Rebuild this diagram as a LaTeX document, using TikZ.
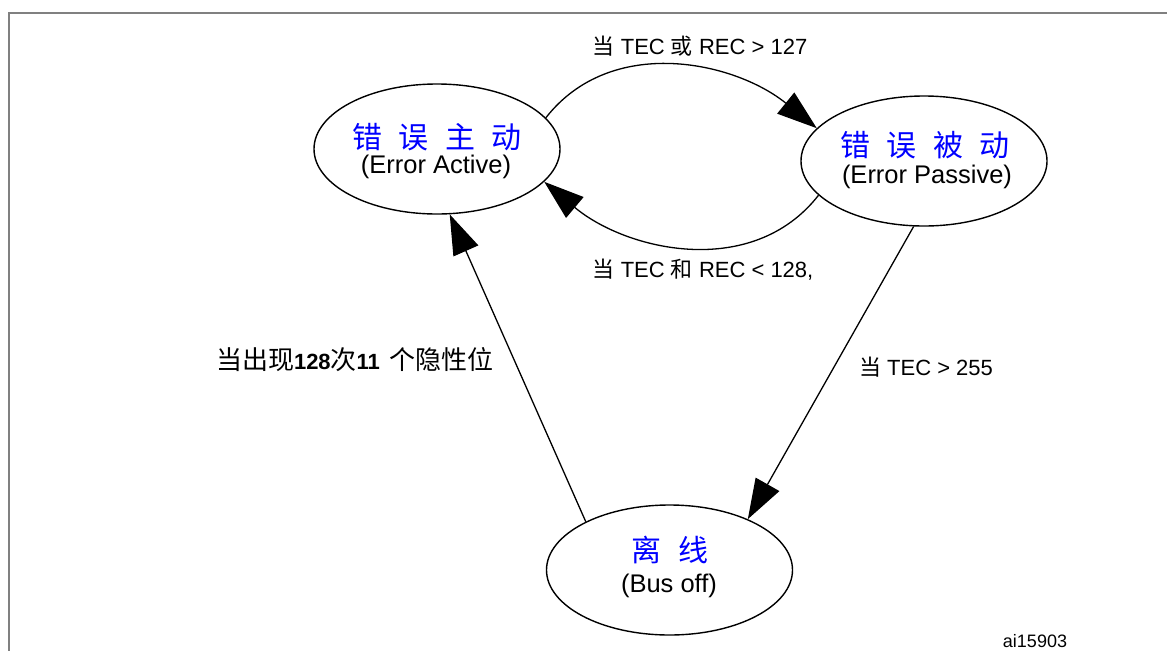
\documentclass[tikz,border=0pt]{standalone}
\usepackage{fontspec}
\setmainfont{Liberation Sans}
\newfontfamily\cjk{Noto Sans CJK SC}
\newfontfamily\cjkwide{Noto Sans CJK SC}[WordSpace=2.4]
\usetikzlibrary{arrows.meta,shapes.geometric}
\tikzset{
  state/.style={ellipse, draw, line width=1.4pt, minimum width=246pt, minimum height=130pt, inner sep=0pt},
  title/.style={font=\fontsize{30}{30}\selectfont\cjkwide, text=blue, inner sep=0pt},
  sub/.style={font=\fontsize{25.5}{25.5}\selectfont, inner sep=0pt},
  lab/.style={font=\fontsize{22}{22}\selectfont, inner sep=0pt},
  arr/.style={line width=1.3pt, -{Triangle[length=40pt,width=27pt]}},
  frame/.style={draw=gray, line width=2pt}
}
\begin{document}
\begin{tikzpicture}[x=1pt,y=1pt]
\useasboundingbox (0,0) rectangle (1167,-651);
\fill[white] (0,0) rectangle (1167,-651);
\coordinate (f1) at (1167,-13);
\coordinate (f2) at (9,-13);
\coordinate (f3) at (9,-651);
\draw[frame] (f1) -- (f2) -- (f3);

\node[state] (ea) at (437,-149) {};
\node[state] (ep) at (924,-161) {};
\node[state] (eb) at (669.5,-570) {};

\node[title] (eat) at (437,-137) {错 误 主 动};
\node[sub] (eas) at (436,-167) {(Error Active)};
\node[title] (ept) at (925,-145) {错 误 被 动};
\node[sub] (eps) at (927,-177) {(Error Passive)};
\node[title] (ebt) at (670,-550) {离 线};
\node[sub] (ebs) at (669,-586) {(Bus off)};

\draw[arr] (ea.16) to[out=52,in=141] (ep.163);
\draw[arr] (ep.198) to[out=232,in=-40] (ea.-17);
\draw[arr] (ep.-99) -- (eb.33);
\draw[arr] (eb.150) -- (ea.-79);

\node[lab] (l1) at (700,-46) {{\cjk 当} TEC {\cjk 或} REC > 127};
\node[lab] (l2) at (703,-270) {{\cjk 当} TEC {\cjk 和} REC < 128,};
\node[lab] (l3) at (926,-367) {{\cjk 当} TEC > 255};
\node[inner sep=0pt, font=\fontsize{22}{22}\selectfont] (l4) at (355,-360) {{\fontsize{26}{26}\selectfont\cjk 当出现}\textbf{128}{\fontsize{26}{26}\selectfont\cjk 次}\textbf{11}\hspace{10pt}{\fontsize{26}{26}\selectfont\cjk 个隐性位}};
\node[inner sep=0pt, font=\fontsize{18}{18}\selectfont] (id) at (1035,-641) {ai15903};
\end{tikzpicture}
\end{document}
